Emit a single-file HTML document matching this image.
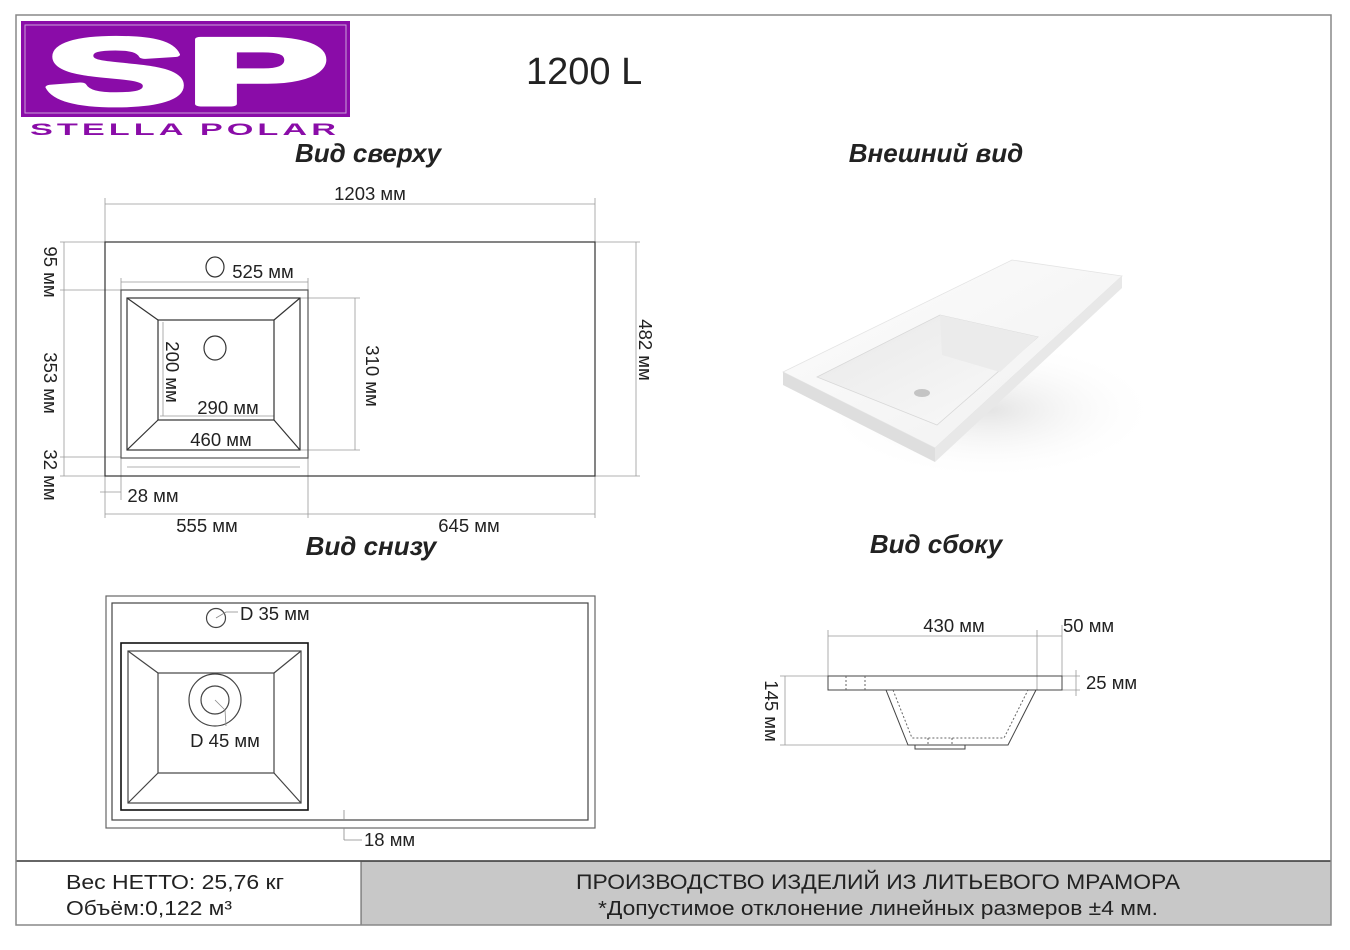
<!DOCTYPE html>
<html><head><meta charset="utf-8"><style>
html,body{margin:0;padding:0;background:#fff;}
svg{display:block;}
text{font-family:"Liberation Sans",sans-serif;fill:#222;}
.d{font-size:18.5px;}
.h{font-size:26px;font-weight:bold;font-style:italic;}
</style></head><body>
<svg width="1350" height="950" viewBox="0 0 1350 950" xmlns="http://www.w3.org/2000/svg">
<defs>
<linearGradient id="g1" x1="0" y1="0" x2="1" y2="1"><stop offset="0" stop-color="#fdfdfd"/><stop offset="1" stop-color="#f0f0f0"/></linearGradient>
<linearGradient id="g2" x1="0" y1="0" x2="1" y2="1"><stop offset="0" stop-color="#e8e8e8"/><stop offset="1" stop-color="#fafafa"/></linearGradient>
<radialGradient id="sh" cx="0.5" cy="0.5" r="0.5"><stop offset="0" stop-color="#e4e4e4"/><stop offset="1" stop-color="#fff" stop-opacity="0"/></radialGradient>
</defs>
<rect x="361" y="861" width="970" height="64" fill="#c8c8c8"/>
<line x1="16" y1="861" x2="1331" y2="861" stroke="#333" stroke-width="1.5"/>
<line x1="361" y1="861" x2="361" y2="925" stroke="#555" stroke-width="1"/>
<rect x="16" y="15" width="1315" height="910" fill="none" stroke="#888" stroke-width="1.5"/>
<!-- logo -->
<rect x="21" y="21" width="329" height="96" fill="#8a0ca8"/>
<rect x="25" y="25" width="321" height="88" fill="none" stroke="#c9a0d8" stroke-width="1"/>
<text x="45" y="104" style="font-family:'Liberation Sans',sans-serif;font-weight:900;font-size:94px;fill:#fff;stroke:#fff;stroke-width:5;stroke-linejoin:round;" textLength="283" lengthAdjust="spacingAndGlyphs">SP</text>
<text x="30" y="135" style="font-size:17px;font-weight:bold;fill:#8a0ca8;letter-spacing:2px;" textLength="310" lengthAdjust="spacingAndGlyphs">STELLA POLAR</text>
<text x="526" y="84" style="font-size:38px;">1200 L</text>
<!-- headings -->
<text x="368" y="162" class="h" text-anchor="middle">Вид сверху</text>
<text x="936" y="162" class="h" text-anchor="middle">Внешний вид</text>
<text x="371" y="555" class="h" text-anchor="middle">Вид снизу</text>
<text x="936" y="553" class="h" text-anchor="middle">Вид сбоку</text>

<!-- TOP VIEW -->
<g fill="none" stroke="#999" stroke-width="0.8">
<line x1="105" y1="204" x2="595" y2="204"/><line x1="105" y1="198" x2="105" y2="242"/><line x1="595" y1="198" x2="595" y2="242"/>
<line x1="595" y1="242" x2="640" y2="242"/><line x1="595" y1="476" x2="640" y2="476"/><line x1="636" y1="242" x2="636" y2="476"/>
<line x1="60" y1="242" x2="105" y2="242"/><line x1="60" y1="290" x2="121" y2="290"/><line x1="60" y1="457" x2="121" y2="457"/><line x1="60" y1="476" x2="105" y2="476"/>
<line x1="64" y1="242" x2="64" y2="476"/>
<line x1="121" y1="282" x2="308" y2="282"/><line x1="121" y1="278" x2="121" y2="290"/><line x1="308" y1="278" x2="308" y2="290"/>
<line x1="300" y1="298" x2="360" y2="298"/><line x1="300" y1="450" x2="360" y2="450"/><line x1="355" y1="298" x2="355" y2="450"/>
<line x1="127" y1="467" x2="300" y2="467"/>
<line x1="105" y1="476" x2="105" y2="518"/><line x1="308" y1="458" x2="308" y2="518"/><line x1="595" y1="476" x2="595" y2="518"/>
<line x1="105" y1="514" x2="595" y2="514"/>
<line x1="100" y1="492" x2="121" y2="492"/><line x1="121" y1="458" x2="121" y2="500"/>
<line x1="160" y1="416" x2="274" y2="416"/><line x1="163" y1="322" x2="163" y2="416"/>
</g>
<g fill="none" stroke="#333" stroke-width="1.2">
<rect x="105" y="242" width="490" height="234"/>
<rect x="121" y="290" width="187" height="168" stroke="#555"/>
<rect x="127" y="298" width="173" height="152"/>
<rect x="158" y="320" width="116" height="100"/>
<line x1="127" y1="298" x2="158" y2="320"/><line x1="300" y1="298" x2="274" y2="320"/>
<line x1="127" y1="450" x2="158" y2="420"/><line x1="300" y1="450" x2="274" y2="420"/>
<ellipse cx="215" cy="267" rx="9" ry="10"/>
<ellipse cx="215" cy="348" rx="11" ry="12"/>
</g>
<text x="370" y="200" class="d" text-anchor="middle">1203 мм</text>
<text x="263" y="278" class="d" text-anchor="middle">525 мм</text>
<text x="228" y="414" class="d" text-anchor="middle">290 мм</text>
<text x="221" y="446" class="d" text-anchor="middle">460 мм</text>
<text x="153" y="502" class="d" text-anchor="middle">28 мм</text>
<text x="207" y="532" class="d" text-anchor="middle">555 мм</text>
<text x="469" y="532" class="d" text-anchor="middle">645 мм</text>
<text class="d" text-anchor="middle" transform="translate(166,372) rotate(90)">200 мм</text>
<text class="d" text-anchor="middle" transform="translate(366,376) rotate(90)">310 мм</text>
<text class="d" text-anchor="middle" transform="translate(639,350) rotate(90)">482 мм</text>
<text class="d" text-anchor="middle" transform="translate(44,272) rotate(90)">95 мм</text>
<text class="d" text-anchor="middle" transform="translate(44,383) rotate(90)">353 мм</text>
<text class="d" text-anchor="middle" transform="translate(44,475) rotate(90)">32 мм</text>

<!-- 3D view -->
<ellipse cx="990" cy="410" rx="170" ry="70" fill="url(#sh)"/>
<polygon points="783,372 1012,260 1122,276 935,448" fill="url(#g1)" stroke="#e4e4e4" stroke-width="0.8"/>
<polygon points="783,372 935,448 935,462 783,385" fill="#dedede"/>
<polygon points="935,448 1122,276 1122,288 935,462" fill="#e8e8e8"/>
<polygon points="817,377 940,315 1038,337 937,425" fill="url(#g2)" stroke="#d8d8d8" stroke-width="0.8"/>
<polygon points="940,315 1038,337 1000,372 942,355" fill="#ebebeb"/>
<ellipse cx="922" cy="393" rx="8" ry="4" fill="#c4c4c4"/>

<!-- BOTTOM VIEW -->
<g fill="none" stroke="#444" stroke-width="1.2">
<rect x="106" y="596" width="489" height="232" stroke="#666"/>
<rect x="112" y="603" width="476" height="217"/>
<rect x="121" y="643" width="187" height="167" stroke="#111" stroke-width="1.6"/>
<rect x="128" y="651" width="173" height="152"/>
<rect x="158" y="673" width="116" height="100"/>
<line x1="128" y1="651" x2="158" y2="673"/><line x1="301" y1="651" x2="274" y2="673"/>
<line x1="128" y1="803" x2="158" y2="773"/><line x1="301" y1="803" x2="274" y2="773"/>
<circle cx="215" cy="700" r="26"/><circle cx="215" cy="700" r="14"/>
<circle cx="216" cy="618" r="9.5"/>
</g>
<g fill="none" stroke="#888" stroke-width="0.8">
<path d="M216,618 L226,612 L238,612"/>
<path d="M215,700 L225,710 L226,726"/>
<line x1="344" y1="810" x2="344" y2="820"/><line x1="344" y1="828" x2="344" y2="840"/><line x1="344" y1="840" x2="362" y2="840"/>
</g>
<text x="240" y="620" class="d">D 35 мм</text>
<text x="225" y="747" class="d" text-anchor="middle">D 45 мм</text>
<text x="364" y="846" class="d">18 мм</text>

<!-- SIDE VIEW -->
<g fill="none" stroke="#999" stroke-width="0.8">
<line x1="828" y1="636" x2="1037" y2="636"/><line x1="1037" y1="636" x2="1062" y2="636"/>
<line x1="828" y1="630" x2="828" y2="676"/><line x1="1037" y1="630" x2="1037" y2="690"/><line x1="1062" y1="625" x2="1062" y2="676"/>
<line x1="780" y1="676" x2="828" y2="676"/><line x1="780" y1="745" x2="908" y2="745"/><line x1="785" y1="676" x2="785" y2="745"/>
<line x1="1062" y1="676" x2="1080" y2="676"/><line x1="1062" y1="690" x2="1080" y2="690"/><line x1="1076" y1="670" x2="1076" y2="696"/>
</g>
<g fill="none" stroke="#444" stroke-width="1">
<rect x="828" y="676" width="234" height="14"/>
<polyline points="886,690 908,745 1008,745 1036,690"/>
<rect x="915" y="745" width="50" height="4"/>
<g stroke-dasharray="2,2" stroke="#666"><line x1="846" y1="676" x2="846" y2="690"/><line x1="865" y1="676" x2="865" y2="690"/><polyline points="893,690 912,738 1004,738 1028,690"/><line x1="928" y1="738" x2="928" y2="745"/><line x1="952" y1="738" x2="952" y2="745"/></g>
</g>
<text x="954" y="632" class="d" text-anchor="middle">430 мм</text>
<text x="1063" y="632" class="d">50 мм</text>
<text x="1086" y="689" class="d">25 мм</text>
<text class="d" text-anchor="middle" transform="translate(765,711) rotate(90)">145 мм</text>

<!-- footer -->
<text x="66" y="889" style="font-size:20px;" textLength="218" lengthAdjust="spacingAndGlyphs">Вес НЕТТО: 25,76 кг</text>
<text x="66" y="915" style="font-size:20px;" textLength="166" lengthAdjust="spacingAndGlyphs">Объём:0,122 м³</text>
<text x="878" y="889" text-anchor="middle" style="font-size:21px;" textLength="604" lengthAdjust="spacingAndGlyphs">ПРОИЗВОДСТВО ИЗДЕЛИЙ ИЗ ЛИТЬЕВОГО МРАМОРА</text>
<text x="878" y="915" text-anchor="middle" style="font-size:20px;" textLength="560" lengthAdjust="spacingAndGlyphs">*Допустимое отклонение линейных размеров ±4 мм.</text>
</svg>
</body></html>
